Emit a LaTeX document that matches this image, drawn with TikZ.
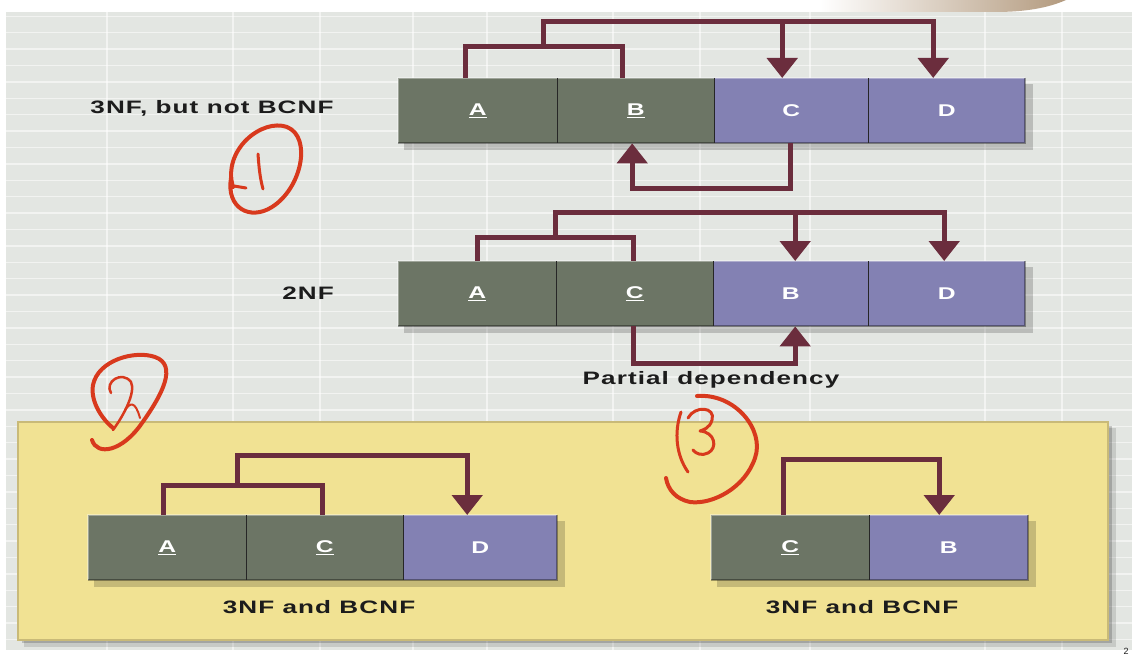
\documentclass[tikz,border=0pt]{standalone}
\usepackage{fontspec}
\setmainfont{Liberation Sans}
\newfontfamily\lab{Liberation Sans}[FakeStretch=1.45,LetterSpace=6]
\usetikzlibrary{arrows.meta,calc}
\definecolor{bgc}{HTML}{E3E6E2}
\definecolor{gcell}{HTML}{6C7565}
\definecolor{pcell}{HTML}{8381B3}
\definecolor{arr}{HTML}{6B2D3D}
\definecolor{yel}{HTML}{F1E293}
\definecolor{yelb}{HTML}{C9BA78}
\definecolor{redpen}{HTML}{D8391D}
\definecolor{txt}{HTML}{1C1C1C}
\definecolor{swoosh}{HTML}{B39A7E}
\begin{document}
\begin{tikzpicture}[x=1pt,y=-1pt,
 cell/.style={minimum height=65pt, inner sep=0pt, anchor=north west, text=white, font=\lab\bfseries\fontsize{17}{17}\selectfont},
 gcellst/.style={cell, fill=gcell},
 pcellst/.style={cell, fill=pcell},
 divider/.style={black!85, line width=1.8pt},
 dep/.style={arr, line width=5pt, line join=miter},
 deparrow/.style={dep, -{Triangle[width=30pt,length=20pt]}},
 lbl/.style={text=txt, font=\lab\bfseries\fontsize{18}{18}\selectfont, inner sep=0pt},
 pen/.style={redpen, line width=4pt, line cap=round, line join=round},
 rowshadow/.style={fill=black, opacity=0.18},
 hilite/.style={white, opacity=0.35, line width=1.5pt},
 lowlite/.style={black, opacity=0.35, line width=2pt},
]
\useasboundingbox (0,0) rectangle (1132,658);
\fill[white] (0,0) rectangle (1132,658);
% background paper with grid
\fill[bgc] (6,12) rectangle (1132,650);
\foreach \yy in {16.3,32.7,...,650} \draw[white, opacity=0.55, line width=1.5pt] (6,\yy) -- (1132,\yy);
\foreach \xx in {107,233,320,413,487,613,700,810,985,1062} \draw[white, opacity=0.55, line width=2.5pt] (\xx,12) -- (\xx,650);
% top swoosh
\shade[left color=white, right color=swoosh] (820,0) -- (1066,0) .. controls (1048,8) and (1025,12) .. (995,12) -- (820,12) -- cycle;
% yellow panel
\fill[black, opacity=0.12] (24,428) rectangle (1116,647);
\fill[black, opacity=0.18] (22,426) rectangle (1112,643);
\fill[yel] (18,422) rectangle (1108,640);
\draw[yelb, line width=1.2pt] (18,422) rectangle (1108,640);
% row shadows
\fill[rowshadow] (404,84) rectangle (1033,150);
\fill[rowshadow] (404,267) rectangle (1033,333);
\fill[rowshadow] (94,521) rectangle (565,587);
\fill[rowshadow] (717,521) rectangle (1036,587);
% row 1
\node[gcellst, minimum width=159pt] (r1a) at (398,78) {\underline{A}};
\node[gcellst, minimum width=157pt] (r1b) at (557,78) {\underline{B}};
\node[pcellst, minimum width=154pt] (r1c) at (714,78) {C};
\node[pcellst, minimum width=157pt] (r1d) at (868,78) {D};
% row 2
\node[gcellst, minimum width=158pt] (r2a) at (398,261) {\underline{A}};
\node[gcellst, minimum width=157pt] (r2c) at (556,261) {\underline{C}};
\node[pcellst, minimum width=155pt] (r2b) at (713,261) {B};
\node[pcellst, minimum width=157pt] (r2d) at (868,261) {D};
% bottom left
\node[gcellst, minimum width=158pt] (r3a) at (88,515) {\underline{A}};
\node[gcellst, minimum width=157pt] (r3c) at (246,515) {\underline{C}};
\node[pcellst, minimum width=154pt] (r3d) at (403,515) {D};
% bottom right
\node[gcellst, minimum width=158pt] (r4c) at (711,515) {\underline{C}};
\node[pcellst, minimum width=159pt] (r4b) at (869,515) {B};
% bevels
\draw[hilite] (r1a.south west) -- (r1a.north west) -- (r1d.north east);
\draw[lowlite] (r1d.north east) -- (r1d.south east) -- (r1a.south west);
\draw[hilite] (r2a.south west) -- (r2a.north west) -- (r2d.north east);
\draw[lowlite] (r2d.north east) -- (r2d.south east) -- (r2a.south west);
\draw[hilite] (r3a.south west) -- (r3a.north west) -- (r3d.north east);
\draw[lowlite] (r3d.north east) -- (r3d.south east) -- (r3a.south west);
\draw[hilite] (r4c.south west) -- (r4c.north west) -- (r4b.north east);
\draw[lowlite] (r4b.north east) -- (r4b.south east) -- (r4c.south west);
% dividers
\draw[divider] (r1a.north east) -- (r1a.south east);
\draw[divider] (r1b.north east) -- (r1b.south east);
\draw[divider] (r1c.north east) -- (r1c.south east);
\draw[divider] (r2a.north east) -- (r2a.south east);
\draw[divider] (r2c.north east) -- (r2c.south east);
\draw[divider] (r2b.north east) -- (r2b.south east);
\draw[divider] (r3a.north east) -- (r3a.south east);
\draw[divider] (r3c.north east) -- (r3c.south east);
\draw[divider] (r4c.north east) -- (r4c.south east);
% row 1 dependencies
\coordinate (j1) at (543,47);
\coordinate (t1) at (543,22);
\coordinate (c1) at ([xshift=-9pt]r1c.north);
\draw[dep] ([xshift=-12.5pt]r1a.north) |- (j1) -| ([xshift=-13.5pt]r1b.north);
\draw[deparrow] (j1) -- (t1) -| ([xshift=-13.5pt]r1d.north);
\draw[deparrow] (c1 |- t1) -- (c1);
\draw[deparrow] ([xshift=-1pt]r1c.south) -- ++(0,45) -| ([xshift=-3.5pt]r1b.south);
% row 2 dependencies
\coordinate (j2) at (555,237);
\coordinate (t2) at (555,212);
\coordinate (c2) at ([xshift=4.5pt]r2b.north);
\draw[dep] (r2a.north) |- (j2) -| ([xshift=-1.5pt]r2c.north);
\draw[deparrow] (j2) -- (t2) -| ([xshift=-2.5pt]r2d.north);
\draw[deparrow] (c2 |- t2) -- (c2);
\draw[deparrow] ([xshift=-1.5pt]r2c.south) -- ++(0,37) -| ([xshift=4.5pt]r2b.south);
% bottom left dependencies
\coordinate (j3) at (237,485);
\coordinate (t3) at (237,455);
\draw[dep] ([xshift=-4pt]r3a.north) |- (j3) -| ([xshift=-2.5pt]r3c.north);
\draw[deparrow] (j3) -- (t3) -| ([xshift=-13pt]r3d.north);
% bottom right dependency
\draw[deparrow] ([xshift=-7pt]r4c.north) -- ++(0,-56) -| ([xshift=-9.5pt]r4b.north);
% labels
\node[lbl] (l1) at (212,108) {3NF, but not BCNF};
\node[lbl] (l2) at (308,293) {2NF};
\node[lbl] (l3) at (711,380) {Partial dependency};
\node[lbl] (l4) at (319,607) {3NF and BCNF};
\node[lbl] (l5) at (862,607) {3NF and BCNF};
\node[text=txt, font=\fontsize{9}{9}\selectfont, inner sep=0pt, anchor=north] (pg) at (1126,648.5) {2};
% red handwriting: circled 1
\draw[pen] (233,187) .. controls (222,150) and (262,118) .. (287,127) .. controls (312,137) and (302,188) .. (272,207) .. controls (250,221) and (226,208) .. (231,178);
\draw[pen, line width=3pt] (258,154) .. controls (259,168) and (260,178) .. (263,189);
\draw[pen, line width=3pt] (234,186) -- (246,188);
% circled 2
\draw[pen] (92,440) .. controls (97,456) and (122,452) .. (142,423) .. controls (162,395) and (178,365) .. (155,357) .. controls (135,350) and (98,360) .. (93,385) .. controls (90,402) and (103,420) .. (113,428);
\draw[pen, line width=2.5pt] (111,393) .. controls (104,382) and (122,370) .. (131,382) .. controls (136,392) and (124,415) .. (113,430);
\draw[pen, line width=2pt] (125,410) .. controls (130,403) and (135,400) .. (140,418);
% circled 3
\draw[pen] (697,396) .. controls (735,393) and (765,430) .. (755,458) .. controls (745,488) and (712,505) .. (690,502) .. controls (676,499) and (668,490) .. (666,478);
\draw[pen, line width=3pt] (681,412) .. controls (674,432) and (676,455) .. (688,472);
\draw[pen, line width=3pt] (688,418) .. controls (695,405) and (716,407) .. (712,420) .. controls (710,428) and (703,430) .. (700,431) .. controls (715,432) and (718,448) .. (708,453) .. controls (702,456) and (696,454) .. (693,450);
\end{tikzpicture}
\end{document}
